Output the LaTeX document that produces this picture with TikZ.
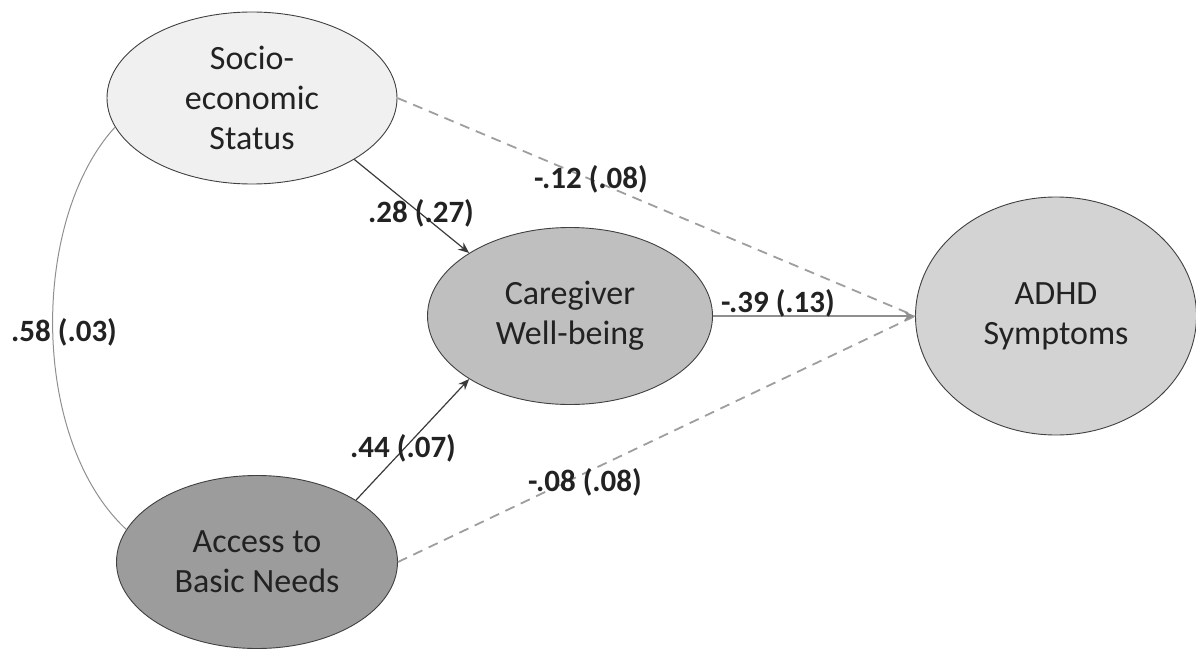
\documentclass[tikz,border=0pt]{standalone}
\usepackage{fontspec}
\setmainfont{Carlito}
\usetikzlibrary{shapes.geometric,arrows.meta}
\definecolor{txt}{HTML}{222222}
\definecolor{sesfill}{HTML}{F0F0F0}
\definecolor{cgfill}{HTML}{BFBFBF}
\definecolor{adhdfill}{HTML}{D3D3D3}
\definecolor{accfill}{HTML}{9C9C9C}
\definecolor{edgedark}{HTML}{3A3A3A}
\definecolor{edgegray}{HTML}{8F8F8F}
\definecolor{dashgray}{HTML}{9E9E9E}
\tikzset{
  latent/.style={ellipse, draw=black!75, line width=0.9pt, inner sep=0pt, align=center,
    text=txt, font=\fontsize{34}{40}\selectfont},
  pathlbl/.style={text=txt, font=\fontsize{31}{37}\selectfont\bfseries, inner sep=0pt},
  darkarrow/.style={draw=edgedark, line width=1.2pt, -{Stealth[length=11pt,width=9pt]}},
  grayarrow/.style={draw=edgegray, line width=1.6pt, -{Stealth[length=11pt,width=9pt]}},
  dashline/.style={draw=dashgray, line width=1.8pt, dash pattern=on 10pt off 7pt},
  corrline/.style={draw=edgegray, line width=1pt}
}
\begin{document}
\begin{tikzpicture}[x=1pt,y=-1pt]
\useasboundingbox (0,0) rectangle (1196,650);
\node[latent, fill=sesfill, minimum width=290pt, minimum height=172pt] (ses) at (252,98) {Socio-\\economic\\Status};
\node[latent, fill=cgfill, minimum width=285pt, minimum height=177pt] (cg) at (570,316) {Caregiver\\Well-being};
\node[latent, fill=adhdfill, minimum width=281pt, minimum height=238pt] (adhd) at (1056,316) {ADHD\\Symptoms};
\node[latent, fill=accfill, minimum width=281pt, minimum height=173pt] (acc) at (257,562) {Access to\\Basic Needs};

\draw[corrline] (ses.192) .. controls (30,220) and (30,440) .. (acc.166);
\draw[darkarrow] (ses.-31) -- (cg.148);
\draw[darkarrow] (acc.32) -- (cg.212);
\draw[dashline] (ses.east) -- (adhd.west);
\draw[dashline] (acc.east) -- (adhd.west);
\draw[grayarrow] (cg.east) -- (adhd.west);

\node[pathlbl] (l1) at (421,213) {.28 (.27)};
\node[pathlbl] (l2) at (403,448) {.44 (.07)};
\node[pathlbl] (l3) at (778,303) {-.39 (.13)};
\node[pathlbl] (l4) at (591,179) {-.12 (.08)};
\node[pathlbl] (l5) at (585,482) {-.08 (.08)};
\node[pathlbl] (l6) at (64,332) {.58 (.03)};
\end{tikzpicture}
\end{document}
